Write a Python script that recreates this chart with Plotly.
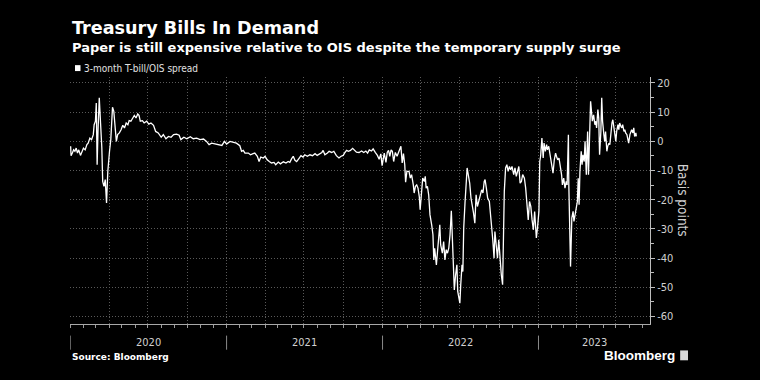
import pandas as pd
import plotly.graph_objects as go

# ---------------- data ----------------
series_name = "3-month T-bill/OIS spread"

dates_2020 = ["2020-01-02","2020-01-03","2020-01-06","2020-01-09","2020-01-12","2020-01-15","2020-01-18","2020-01-21","2020-01-25","2020-01-28",
              "2020-02-01","2020-02-05","2020-02-09","2020-02-12","2020-02-16","2020-02-20","2020-02-24","2020-02-26","2020-02-29",
              "2020-03-02","2020-03-04","2020-03-06","2020-03-09","2020-03-12","2020-03-15","2020-03-17","2020-03-20","2020-03-23","2020-03-26","2020-03-29","2020-03-31",
              "2020-04-02","2020-04-05","2020-04-07","2020-04-09","2020-04-12","2020-04-15","2020-04-18","2020-04-21","2020-04-25","2020-04-29",
              "2020-05-03","2020-05-07","2020-05-11","2020-05-15","2020-05-18","2020-05-22","2020-05-26","2020-05-30",
              "2020-06-03","2020-06-07","2020-06-10","2020-06-13","2020-06-18","2020-06-22","2020-06-28",
              "2020-07-03","2020-07-08","2020-07-14","2020-07-19","2020-07-25",
              "2020-08-01","2020-08-06","2020-08-12","2020-08-18","2020-08-24","2020-08-30",
              "2020-09-06","2020-09-12","2020-09-16","2020-09-23","2020-09-30",
              "2020-10-08","2020-10-15","2020-10-23","2020-10-31",
              "2020-11-08","2020-11-15","2020-11-21","2020-11-27",
              "2020-12-05","2020-12-13","2020-12-21","2020-12-27"]
values_2020 = [-1.7,-4.9,-4.0,-2.9,-3.4,-2.3,-4.0,-2.9,-4.8,-3.4,
               -2.3,-2.9,-1.1,-0.6,1.1,0.6,2.3,5.7,6.9,
               13.1,-8.0,3.4,14.9,6.3,-2.3,-13.7,-15.4,-13.1,-21.1,-10.3,-4.6,
               -3.4,0.6,8.0,11.7,10.3,5.7,0.0,2.3,2.9,4.0,
               5.5,4.6,6.3,5.7,7.1,6.9,8.2,8.9,
               8.0,9.4,8.9,6.9,7.1,6.3,6.9,
               5.9,6.3,5.5,3.4,2.9,
               1.4,2.3,0.9,1.7,1.4,2.3,
               2.5,2.1,0.6,1.4,0.9,
               1.6,0.9,1.1,0.6,
               0.8,0.0,-1.1,-0.6,
               -0.9,-1.1,-1.4,0.0]

dates_2021 = ["2021-01-01","2021-01-09","2021-01-24","2021-02-01","2021-02-05","2021-02-09","2021-02-13","2021-02-21","2021-02-26",
              "2021-03-04","2021-03-08","2021-03-14","2021-03-18","2021-03-22","2021-03-28",
              "2021-04-01","2021-04-06","2021-04-11","2021-04-16","2021-04-22","2021-04-26",
              "2021-05-02","2021-05-07","2021-05-14","2021-05-20","2021-05-25","2021-05-29",
              "2021-06-02","2021-06-06","2021-06-10","2021-06-14","2021-06-20","2021-06-24","2021-06-29",
              "2021-07-03","2021-07-09","2021-07-15","2021-07-21","2021-07-27",
              "2021-08-01","2021-08-07","2021-08-12","2021-08-15","2021-08-19","2021-08-25","2021-08-29",
              "2021-09-04","2021-09-09","2021-09-15","2021-09-21","2021-09-26",
              "2021-10-01","2021-10-05","2021-10-09","2021-10-13","2021-10-18","2021-10-23","2021-10-28",
              "2021-11-01","2021-11-07","2021-11-13","2021-11-18","2021-11-23","2021-11-27",
              "2021-12-01","2021-12-06","2021-12-10","2021-12-15","2021-12-20","2021-12-24","2021-12-28","2021-12-31"]
values_2021 = [-0.9,0.0,-0.6,-1.5,-3.4,-3.1,-4.0,-4.0,-4.6,
               -4.2,-4.0,-5.1,-6.9,-5.4,-5.7,
               -5.1,-6.3,-6.9,-7.4,-7.2,-8.0,
               -7.1,-7.7,-7.0,-7.4,-6.9,-7.2,
               -6.0,-5.1,-6.5,-6.9,-5.7,-4.9,-5.4,
               -4.6,-5.1,-4.6,-4.9,-4.2,
               -4.8,-4.3,-3.8,-3.1,-4.6,-4.0,-3.4,
               -3.8,-3.4,-4.9,-5.7,-5.1,
               -4.8,-3.8,-3.1,-3.4,-3.1,-2.4,-3.1,
               -3.7,-3.8,-3.3,-3.8,-3.3,-4.0,
               -2.9,-3.3,-2.6,-3.8,-4.8,-6.1,-4.3,-8.3]

dates_2022 = ["2022-01-03","2022-01-05","2022-01-09","2022-01-12","2022-01-15","2022-01-18","2022-01-21","2022-01-24","2022-01-27","2022-01-31",
              "2022-02-04","2022-02-09","2022-02-13","2022-02-16","2022-02-19","2022-02-22","2022-02-24","2022-02-27",
              "2022-03-04","2022-03-07","2022-03-10","2022-03-14","2022-03-16","2022-03-19","2022-03-22","2022-03-25","2022-03-28","2022-03-30",
              "2022-04-02","2022-04-05","2022-04-09","2022-04-11","2022-04-13","2022-04-16","2022-04-19","2022-04-22","2022-04-26","2022-04-29",
              "2022-05-01","2022-05-03","2022-05-07","2022-05-10","2022-05-13","2022-05-15","2022-05-17","2022-05-21","2022-05-24","2022-05-27","2022-05-30",
              "2022-06-02","2022-06-05","2022-06-08","2022-06-11","2022-06-14","2022-06-16","2022-06-18","2022-06-21","2022-06-24","2022-06-26","2022-06-29",
              "2022-07-01","2022-07-03","2022-07-06","2022-07-08","2022-07-10","2022-07-13","2022-07-16","2022-07-18","2022-07-20","2022-07-24","2022-07-27","2022-07-30",
              "2022-08-02","2022-08-05","2022-08-08","2022-08-11","2022-08-14","2022-08-17","2022-08-21","2022-08-24","2022-08-27","2022-08-29",
              "2022-09-01","2022-09-04","2022-09-08","2022-09-11","2022-09-14","2022-09-16","2022-09-19","2022-09-21","2022-09-24","2022-09-27","2022-09-30",
              "2022-10-03","2022-10-06","2022-10-09","2022-10-11","2022-10-13","2022-10-16","2022-10-19","2022-10-22","2022-10-25","2022-10-28","2022-10-31",
              "2022-11-04","2022-11-07","2022-11-10","2022-11-13","2022-11-16","2022-11-19","2022-11-22","2022-11-25","2022-11-29",
              "2022-12-02","2022-12-05","2022-12-08","2022-12-11","2022-12-14","2022-12-17","2022-12-20","2022-12-23","2022-12-27","2022-12-30"]
values_2022 = [-4.9,-4.0,-7.2,-3.8,-3.1,-5.1,-2.9,-3.4,-6.9,-3.8,
               -5.1,-2.9,-1.7,-7.4,-4.2,-8.0,-14.0,-10.3,
               -10.3,-12.6,-11.4,-14.9,-17.7,-15.4,-14.9,-16.0,-18.9,-23.4,
               -16.0,-12.6,-13.7,-12.0,-16.0,-15.4,-18.3,-25.1,-28.6,-32.0,
               -40.6,-36.6,-42.3,-36.6,-32.0,-28.6,-35.4,-38.3,-34.3,-40.6,-37.1,
               -38.3,-36.6,-32.0,-23.8,-36.6,-43.4,-50.9,-45.7,-42.3,-51.4,-54.9,
               -55.4,-49.1,-42.3,-44.6,-29.7,-21.1,-13.7,-9.1,-10.9,-14.3,-19.4,-21.7,
               -24.6,-28.0,-18.3,-22.3,-20.0,-18.9,-16.6,-17.7,-13.7,-13.1,
               -16.0,-19.4,-20.6,-25.1,-29.1,-33.7,-40.0,-30.9,-35.4,-40.0,-33.7,
               -41.1,-45.7,-49.1,-28.0,-17.1,-9.1,-8.0,-10.3,-8.6,-9.7,-8.6,
               -11.4,-9.1,-12.0,-10.3,-8.6,-14.3,-13.7,-11.4,-12.6,
               -16.0,-22.9,-26.9,-20.6,-22.3,-26.9,-30.3,-24.0,-33.1,-29.1]

dates_2023 = ["2023-01-02","2023-01-04","2023-01-06","2023-01-09","2023-01-12","2023-01-14","2023-01-17","2023-01-20","2023-01-22","2023-01-25","2023-01-28","2023-01-30",
              "2023-02-02","2023-02-04","2023-02-07","2023-02-10","2023-02-12","2023-02-15","2023-02-18","2023-02-21","2023-02-24","2023-02-26",
              "2023-03-01","2023-03-04","2023-03-07","2023-03-09","2023-03-12","2023-03-13","2023-03-15","2023-03-17","2023-03-20","2023-03-23","2023-03-25","2023-03-28","2023-03-30",
              "2023-04-02","2023-04-04","2023-04-06","2023-04-08","2023-04-11","2023-04-13","2023-04-15","2023-04-18","2023-04-20","2023-04-23","2023-04-26","2023-04-28",
              "2023-05-01","2023-05-03","2023-05-05","2023-05-07","2023-05-10","2023-05-13","2023-05-15","2023-05-17","2023-05-20","2023-05-22","2023-05-24","2023-05-27","2023-05-29","2023-05-31",
              "2023-06-03","2023-06-05","2023-06-07","2023-06-10","2023-06-12","2023-06-15","2023-06-17","2023-06-19","2023-06-22","2023-06-24","2023-06-26","2023-06-29",
              "2023-07-01","2023-07-03","2023-07-06","2023-07-08","2023-07-10","2023-07-13","2023-07-15","2023-07-17","2023-07-20","2023-07-22","2023-07-24","2023-07-27","2023-07-29","2023-07-31",
              "2023-08-03","2023-08-05","2023-08-07","2023-08-10","2023-08-12","2023-08-14","2023-08-17","2023-08-18"]
values_2023 = [-24.0,-6.9,-5.1,1.1,-5.7,-0.6,-3.4,-1.1,-2.9,-1.7,-4.6,-6.9,
               -9.7,-10.9,-6.3,-4.0,-5.1,-6.3,-5.7,-8.0,-11.4,-14.9,
               -12.6,-16.0,-13.7,-14.9,2.3,-14.9,-28.6,-42.9,-26.3,-24.0,-27.4,-25.1,-24.0,
               -20.6,-12.6,-21.7,-10.3,-3.4,-8.0,-4.6,-6.9,0.0,-11.4,3.4,-11.4,
               4.6,13.7,10.3,6.9,9.1,5.7,6.9,4.6,10.9,8.0,-4.6,3.4,14.9,6.9,
               2.3,0.0,3.4,-3.4,-1.7,-0.6,-1.1,2.3,6.3,7.4,4.6,1.1,
               0.0,3.4,5.7,4.0,6.3,5.1,4.6,5.7,3.4,4.0,2.9,2.3,0.6,-0.6,
               2.3,3.4,4.0,2.9,4.6,1.7,2.9,1.7]

year_labels = ["2020", "2021", "2022", "2023"]
y_ticks = [20, 10, 0, -10, -20, -30, -40, -50, -60]

# ---------------- build figure ----------------
dates = pd.to_datetime(dates_2020 + dates_2021 + dates_2022 + dates_2023)
values = values_2020 + values_2021 + values_2022 + values_2023

x_start = pd.Timestamp("2019-12-31 12:00")
x_end = pd.Timestamp("2023-09-19")

fig = go.Figure()
fig.add_trace(go.Scatter(x=dates, y=values, mode="lines", name=series_name,
                         line=dict(color="#ffffff", width=1.3), showlegend=False))

tick_font = dict(family="DejaVu Sans Condensed", size=11, color="#d0d0d0")
grid_col = "#5a5a5a"
grid_dash = "1px,2px"

fig.update_layout(
    width=760, height=380,
    paper_bgcolor="#000000", plot_bgcolor="#000000",
    margin=dict(l=70, r=110, t=77, b=55.5),
    xaxis=dict(
        type="date", range=[x_start, x_end],
        tickmode="linear", tick0="2020-01-01", dtick="M3",
        showticklabels=False, ticks="outside", ticklen=3, tickcolor="#9a9a9a",
        showgrid=True, gridcolor=grid_col, griddash=grid_dash, gridwidth=1,
        showline=True, linecolor="#a8a8a8", linewidth=1,
        minor=dict(tickmode="linear", tick0="2020-01-01", dtick="M1", ticks="outside",
                   ticklen=3, tickcolor="#9a9a9a", showgrid=False),
        zeroline=False, fixedrange=True,
    ),
    yaxis=dict(
        side="right", range=[-62.56, 22.05],
        tickmode="array", tickvals=y_ticks, ticktext=[str(v) for v in y_ticks],
        ticks="outside", ticklen=4, tickcolor="#bdbdbd", tickfont=tick_font,
        showgrid=True, gridcolor=grid_col, griddash=grid_dash, gridwidth=1,
        showline=True, linecolor="#bdbdbd", linewidth=1,
        minor=dict(tickmode="linear", tick0=0, dtick=5, ticks="outside", ticklen=3,
                   tickcolor="#bdbdbd", showgrid=False),
        zeroline=False, fixedrange=True,
    ),
)

annotations = []
shapes = []

# title, subtitle
annotations.append(dict(text="<b>Treasury Bills In Demand</b>", xref="paper", yref="paper",
                        x=0, y=1.198, xanchor="left", yanchor="middle", showarrow=False,
                        font=dict(family="DejaVu Sans", size=17.6, color="#ffffff")))
annotations.append(dict(text="<b>Paper is still expensive relative to OIS despite the temporary supply surge</b>",
                        xref="paper", yref="paper", x=0, y=1.121, xanchor="left", yanchor="middle",
                        showarrow=False, font=dict(family="DejaVu Sans", size=13, color="#ffffff")))

# legend
shapes.append(dict(type="rect", xref="paper", yref="paper", x0=0.0086, x1=0.0181, y0=1.024, y1=1.048,
                   fillcolor="#ffffff", line=dict(width=0)))
annotations.append(dict(text=series_name, xref="paper", yref="paper", x=0.021, y=1.036,
                        xanchor="left", yanchor="middle", showarrow=False,
                        font=dict(family="DejaVu Sans Condensed", size=10, color="#e0e0e0")))

# y-axis title (reads top to bottom)
annotations.append(dict(text="Basis points", xref="paper", yref="paper", x=1.057, y=0.503,
                        xanchor="center", yanchor="middle", textangle=90, showarrow=False,
                        font=dict(family="DejaVu Sans Condensed", size=13.5, color="#d0d0d0")))

# year labels centred on the visible part of each year, with separators
for lab in year_labels:
    ys = max(pd.Timestamp(f"{lab}-01-01"), x_start)
    ye = min(pd.Timestamp(f"{int(lab) + 1}-01-01"), x_end)
    mid = ys + (ye - ys) / 2
    annotations.append(dict(text=lab, xref="x", yref="paper", x=mid, y=-0.075,
                            xanchor="center", yanchor="middle", showarrow=False, font=tick_font))
    if pd.Timestamp(f"{lab}-01-01") > x_start:
        shapes.append(dict(type="line", xref="x", yref="paper",
                           x0=pd.Timestamp(f"{lab}-01-01"), x1=pd.Timestamp(f"{lab}-01-01"),
                           y0=-0.047, y1=-0.104, line=dict(color="#8a8a8a", width=1)))

# source and logo
annotations.append(dict(text="<b>Source: Bloomberg</b>", xref="paper", yref="paper", x=0, y=-0.135,
                        xanchor="left", yanchor="middle", showarrow=False,
                        font=dict(family="DejaVu Sans", size=9, color="#ffffff")))
annotations.append(dict(text="Bloomberg", xref="paper", yref="paper", x=1.046, y=-0.128,
                        xanchor="right", yanchor="middle", showarrow=False,
                        font=dict(family="Liberation Sans", size=13.5, color="#ffffff", weight=600)))
shapes.append(dict(type="rect", xref="paper", yref="paper", x0=1.052, x1=1.0655, y0=-0.147, y1=-0.107,
                   fillcolor="#d8d8d8", line=dict(width=0)))

fig.update_layout(annotations=annotations, shapes=shapes)

fig.write_html("out.html",
               config={"displayModeBar": False},
               post_script="document.body.style.margin='0';document.body.style.padding='0';"
                           "document.body.style.background='#000000';")
